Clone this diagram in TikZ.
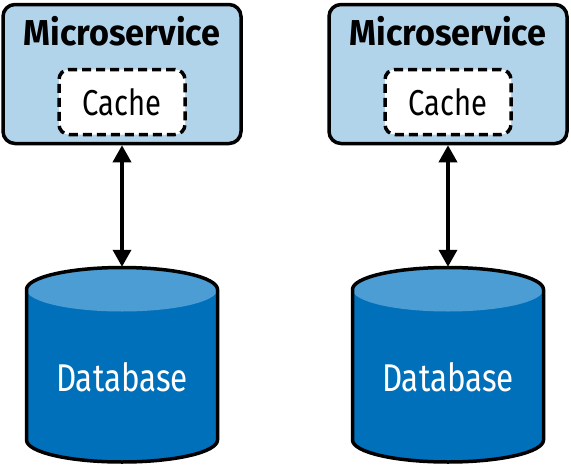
\documentclass[tikz,border=0pt]{standalone}
\usepackage{fontspec}
\setmainfont{Fira Sans}[FakeStretch=0.81]
\newfontfamily\svcfont{Fira Sans}[FakeStretch=0.95]
\usetikzlibrary{arrows.meta}
\definecolor{svcblue}{HTML}{B2D4EB}
\definecolor{dbbody}{HTML}{0070BB}
\definecolor{dbtop}{HTML}{4B9DD3}

\begin{document}
\begin{tikzpicture}[x=1pt,y=-1pt,
    svcbox/.style={draw, line width=3.5pt, rounded corners=12pt, fill=svcblue,
      minimum width=238pt, minimum height=139pt, inner sep=0pt},
    cachebox/.style={draw, line width=3.5pt, dash pattern=on 9pt off 5pt,
      rounded corners=10pt, fill=white, minimum width=126pt,
      minimum height=65pt, inner sep=0pt},
    link/.style={line width=3.5pt,
      {Triangle[length=17pt,width=18pt]}-{Triangle[length=17pt,width=18pt]}}]
  \useasboundingbox (0,0) rectangle (571,469);

  % one microservice with its own database per column
  \foreach \i/\x in {1/122, 2/448} {
    \node [svcbox] (ms\i) at (\x,74) {};
    \node [font=\svcfont\fontsize{36}{36}\bfseries\selectfont] (mslabel\i) at (\x,31) {Microservice};
    \node [cachebox, font=\fontsize{36}{36}\selectfont] (cache\i) at (\x,102) {Cache};

    % database cylinder
    \fill [dbbody] (\x-95.5,289.5) -- (\x-95.5,440)
      arc [start angle=180, end angle=0, x radius=95.5, y radius=22]
      -- (\x+95.5,289.5) -- cycle;
    \fill [dbtop] (\x,289.5) ellipse [x radius=95.5, y radius=22];
    \draw [line width=3.5pt] (\x-95.5,440) -- (\x-95.5,289.5)
      arc [start angle=180, end angle=360, x radius=95.5, y radius=22]
      -- (\x+95.5,440)
      arc [start angle=0, end angle=180, x radius=95.5, y radius=22] -- cycle;
    \node [minimum width=194pt, minimum height=196pt, inner sep=0pt] (db\i) at (\x,365) {};
    \node [text=white, font=\fontsize{38.7}{38.7}\selectfont] (dblabel\i) at (\x,377) {Database};

    \draw [link] (ms\i.south) -- (db\i.north);
  }
\end{tikzpicture}
\end{document}
